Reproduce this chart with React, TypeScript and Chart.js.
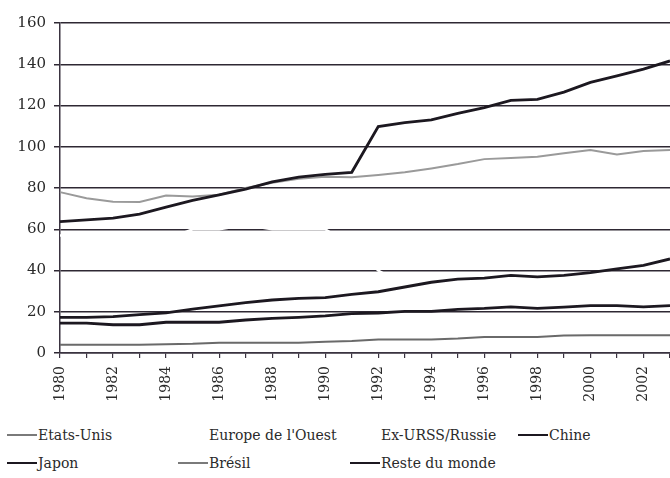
import React, { useEffect, useRef } from "react";
import { Chart, registerables } from "chart.js";

Chart.register(...registerables);

const years = [
  "1980", "1981", "1982", "1983", "1984", "1985", "1986", "1987", "1988", "1989", "1990", "1991",
  "1992", "1993", "1994", "1995", "1996", "1997", "1998", "1999", "2000", "2001", "2002", "2003",
];
const yTicks = [0, 20, 40, 60, 80, 100, 120, 140, 160];

const etatsUnis = [78, 75, 73.3, 73.2, 76.4, 75.9, 76.7, 80, 82.5, 84.5, 85.5, 85.2, 86.3, 87.6, 89.5, 91.6, 94, 94.6, 95.2, 96.8, 98.4, 96.3, 97.9, 98.4];
const europeOuest: (number | null)[] = years.map(() => null);
const exUrss = [57, 57, 57, 57, 55, 60, 60, 62, 60, 60, 60, 52, 40, 33, 29, 27, 26, 26, 25, 25, 26, 27, 28, 29];
const chine = [63.7, 64.5, 65.4, 67.3, 70.7, 74, 76.7, 79.5, 83, 85.3, 86.6, 87.6, 109.8, 111.7, 113, 116.2, 119, 122.5, 123, 126.5, 131.2, 134.4, 137.6, 141.6];
const japon = [14.5, 14.5, 13.7, 13.7, 14.9, 14.9, 14.9, 16, 16.8, 17.3, 18, 19.1, 19.4, 20.2, 20.2, 21.2, 21.6, 22.4, 21.6, 22.2, 23, 23, 22.4, 23];
const bresil = [4, 4, 4, 4, 4.3, 4.5, 5, 5, 5, 5, 5.5, 5.8, 6.5, 6.5, 6.5, 7, 7.8, 7.8, 7.8, 8.5, 8.6, 8.6, 8.6, 8.6];
const resteDuMonde = [17.3, 17.3, 17.6, 18.6, 19.5, 21.3, 22.8, 24.4, 25.7, 26.5, 26.8, 28.4, 29.7, 32, 34.3, 35.8, 36.3, 37.6, 36.9, 37.6, 39, 40.8, 42.5, 45.6];

const seriesNames = ["Etats-Unis", "Europe de l'Ouest", "Ex-URSS/Russie", "Chine", "Japon", "Brésil", "Reste du monde"];
const seriesData = [etatsUnis, europeOuest, exUrss, chine, japon, bresil, resteDuMonde];

const FONT = "DejaVu Serif";

export default function App() {
  const ref = useRef<HTMLCanvasElement | null>(null);

  const colors = ["#9a9a9a", "#ffffff", "#ffffff", "#1c1820", "#1c1820", "#6a6a6a", "#1c1820"];
  const widths = [2, 2.5, 2.5, 2.8, 2.8, 2, 2.8];
  const orders = [1, 10, 10, 0, 0, 1, 0];

  useEffect(() => {
    if (!ref.current) return;
    const chart = new Chart(ref.current, {
      type: "line",
      data: {
        labels: years,
        datasets: seriesNames.map((name, i) => ({
          label: name,
          data: seriesData[i],
          borderColor: colors[i],
          backgroundColor: colors[i],
          borderWidth: widths[i],
          pointRadius: 0,
          tension: 0,
          fill: false,
          order: orders[i],
        })),
      },
      options: {
        animation: false,
        responsive: false,
        maintainAspectRatio: false,
        layout: { padding: { top: 23, right: 0, left: 0, bottom: 0 } },
        plugins: { legend: { display: false }, tooltip: { enabled: false } },
        scales: {
          x: {
            type: "category",
            offset: false,
            border: { display: true, color: "#3a3340", width: 1.5 },
            grid: { drawOnChartArea: false, drawTicks: true, tickLength: 5, color: "#3a3340", lineWidth: 1.2 },
            ticks: {
              autoSkip: false,
              maxRotation: 90,
              minRotation: 90,
              padding: 8,
              color: "#2a2a2a",
              font: { family: FONT, size: 14 },
              callback: (v: any, i: number) => (Number(years[i]) % 2 === 0 ? years[i] : ""),
            },
            afterFit: (s: any) => { s.height = 65; s.paddingRight = 0; s.paddingLeft = 0; },
          },
          y: {
            min: 0,
            max: 160,
            afterBuildTicks: (s: any) => { s.ticks = yTicks.map((v) => ({ value: v })); },
            border: { display: true, color: "#3a3340", width: 1.5 },
            grid: { color: "#2e2833", lineWidth: 1.5, drawTicks: true, tickLength: 6 },
            ticks: {
              padding: 8,
              color: "#2a2a2a",
              font: { family: FONT, size: 15 },
            },
            afterFit: (s: any) => { s.width = 60; },
          },
        },
      },
    });
    return () => chart.destroy();
  }, []);

  const legendPos = [
    [7, 435], [178, 435], [350, 435], [518, 435],
    [7, 463], [178, 463], [350, 463],
  ];

  return (
    <div style={{ position: "absolute", left: 0, top: 0, width: 670, height: 478, background: "#fff", overflow: "hidden" }}>
      <canvas ref={ref} width={670} height={418} style={{ position: "absolute", left: 0, top: 0, width: 670, height: 418 }} />
      {seriesNames.map((name, i) => (
        <div
          key={name}
          style={{
            position: "absolute",
            left: legendPos[i][0],
            top: legendPos[i][1] - 10,
            height: 20,
            display: "flex",
            alignItems: "center",
            fontFamily: FONT,
            fontSize: 14,
            color: "#2a2a2a",
            whiteSpace: "nowrap",
          }}
        >
          <span style={{ display: "inline-block", width: 30, height: 0, borderTop: `2px solid ${i === 0 || i === 5 ? "#7a7a7a" : colors[i]}`, marginRight: 1 }} />
          <span>{name}</span>
        </div>
      ))}
    </div>
  );
}
